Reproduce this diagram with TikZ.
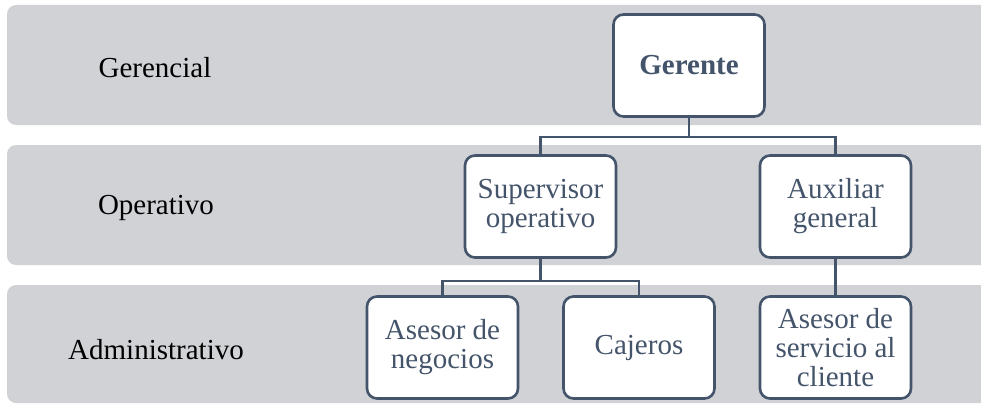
\documentclass[tikz,border=0pt]{standalone}
\usepackage{fontspec}
\setmainfont{Liberation Serif}
\usepackage{tikz}
\usetikzlibrary{positioning}
\definecolor{slate}{HTML}{44546A}
\definecolor{bandgray}{HTML}{D0D2D6}

\begin{document}
\begin{tikzpicture}[
  x=1pt, y=-1pt, font=\fontsize{29}{29}\selectfont,
  band/.style = {fill=bandgray, rounded corners=9pt},
  blk/.style  = {draw=slate, line width=2.6pt, fill=white, rounded corners=10pt,
                 minimum width=151pt, minimum height=102pt, align=center,
                 text=slate, inner sep=2pt},
  ln/.style   = {draw=slate, line width=2.6pt},
  lvl/.style  = {text=black, inner sep=0pt},
]
  \useasboundingbox (0,0) rectangle (981,404);
  \clip (0,0) rectangle (981,404);

  % ---- level bands ------------------------------------------
  \fill[band] (7,  5) rectangle (1000,125);
  \fill[band] (7,145) rectangle (1000,265);
  \fill[band] (7,285) rectangle (1000,403);

  \node[lvl] (lg) at (155, 68) {Gerencial};
  \node[lvl] (lo) at (156,208) {Operativo};
  \node[lvl] (la) at (156,350) {Administrativo};

  % ---- positions --------------------------------------------
  \node[blk] (ger) at (689,  65.5) {\textbf{Gerente}};
  \node[blk] (sup) at (540.5,206.5) {Supervisor\\operativo};
  \node[blk] (aux) at (835.5,206.5) {Auxiliar\\general};
  \node[blk] (neg) at (442.5,347.5) {Asesor de\\negocios};
  \node[blk] (caj) at (639,  347.5) {Cajeros};
  \node[blk] (cli) at (835.5,347.5) {Asesor de\\servicio al\\cliente};

  % ---- lines ------------------------------------------------
  \draw[ln] (ger.south) -- ++(0,19) -| (sup.north);
  \draw[ln] (ger.south) -- ++(0,19) -| (aux.north);
  \draw[ln] (sup.south) -- ++(0,22) -| (neg.north);
  \draw[ln] (sup.south) -- ++(0,22) -| (caj.north);
  \draw[ln] (aux.south) -- (cli.north);

\end{tikzpicture}
\end{document}
